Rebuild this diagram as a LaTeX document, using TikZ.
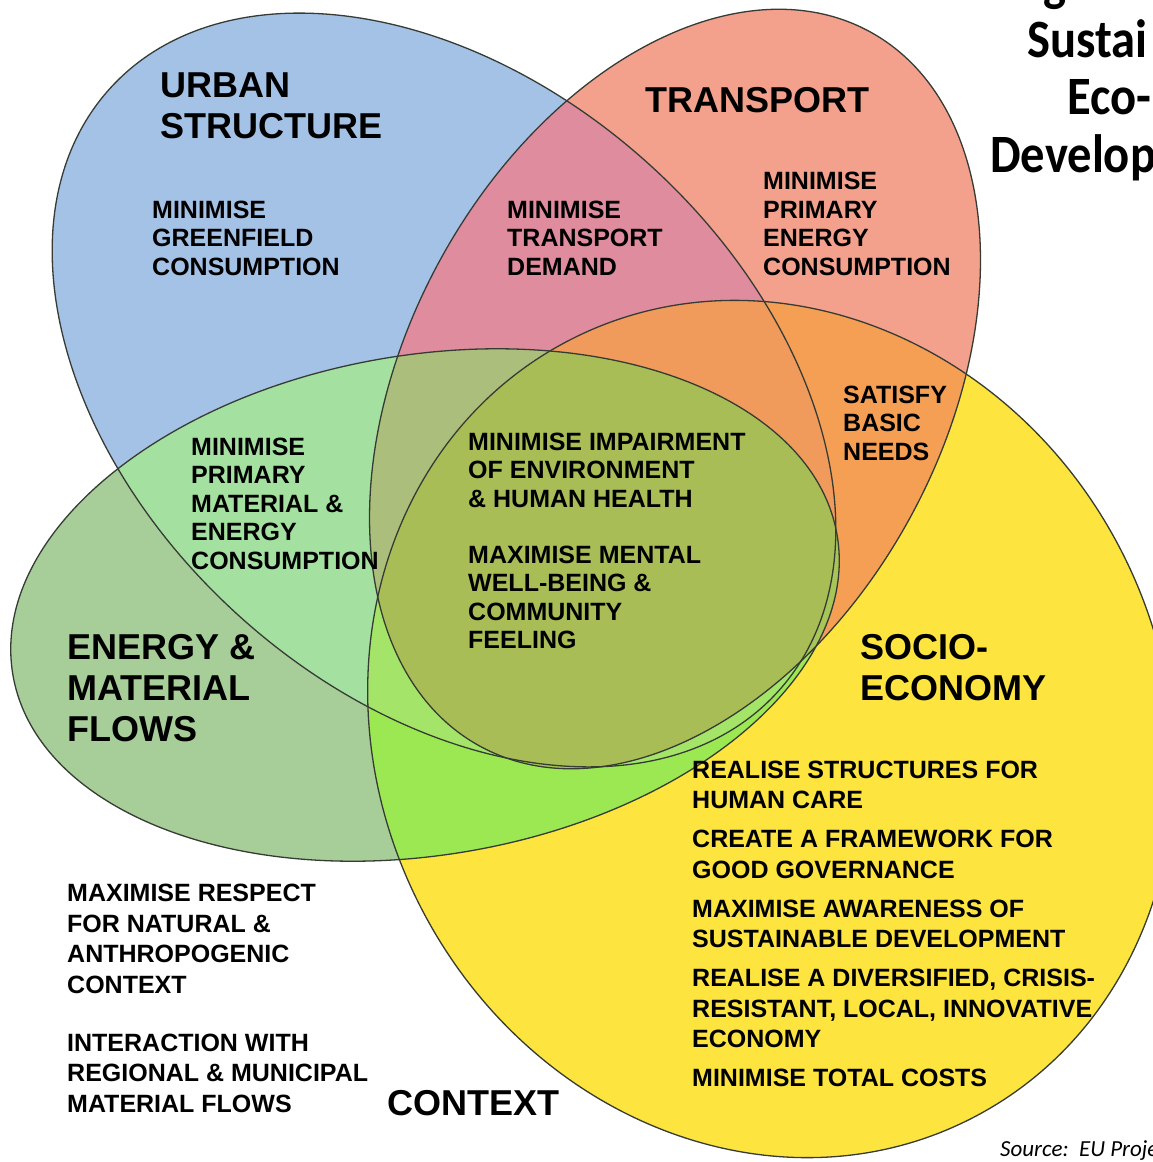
\documentclass[tikz,border=0pt]{standalone}
\usepackage{fontspec}
\setmainfont{Liberation Sans}
\newfontfamily\titlefont{Carlito}[FakeStretch=0.9]
\newfontfamily\srcfont{Carlito}
\definecolor{cB}{HTML}{A4C2E6}
\definecolor{cR}{HTML}{F3A08C}
\definecolor{cG}{HTML}{A7CD98}
\definecolor{cY}{HTML}{FDE43E}
\definecolor{cBR}{HTML}{DF8C9F}
\definecolor{cBG}{HTML}{A4E09F}
\definecolor{cBY}{HTML}{C5D97F}
\definecolor{cRG}{HTML}{C8B07E}
\definecolor{cRY}{HTML}{F59F55}
\definecolor{cGY}{HTML}{9CE853}
\definecolor{cBRG}{HTML}{ACBE7C}
\definecolor{cBRY}{HTML}{F09A5B}
\definecolor{cBGY}{HTML}{A4E468}
\definecolor{cRGY}{HTML}{A8C658}
\definecolor{cBRGY}{HTML}{A9BD57}
\definecolor{edge}{HTML}{363C34}
\def\eB#1{\path[#1,rotate around={-42:(444,390)}] (444,390) ellipse [x radius=450pt,y radius=305pt];}
\def\eR#1{\path[#1,rotate around={61.4:(675,389)}] (675,389) ellipse [x radius=407pt,y radius=268pt];}
\def\eG#1{\path[#1,rotate around={9.6:(425,605)}] (425,605) ellipse [x radius=418pt,y radius=250pt];}
\def\eY#1{\path[#1,rotate around={-62.1:(771,729)}] (771,729) ellipse [x radius=438pt,y radius=393pt];}
\tikzset{
  lbl/.style={inner sep=0pt, anchor=base west, align=left, text=black},
  big/.style={lbl, font=\fontsize{36}{41}\selectfont\bfseries},
  small/.style={lbl, font=\fontsize{25}{28.5}\selectfont\bfseries},
  list/.style={lbl, font=\fontsize{25}{30.5}\selectfont\bfseries},
  ttl/.style={inner sep=0pt, anchor=base west, font=\fontsize{54}{57}\selectfont\titlefont\bfseries},
  outline/.style={draw=edge, line width=1.3pt}
}
\begin{document}
\begin{tikzpicture}[x=1pt,y=-1pt]
\useasboundingbox (0,0) rectangle (1153,1162);
\clip (0,0) rectangle (1153,1162);
\fill[white] (0,0) rectangle (1153,1162);
% single sets
\eB{fill=cB}
\eR{fill=cR}
\eG{fill=cG}
\eY{fill=cY}
% pairs
\begin{scope}\eB{clip}\eR{fill=cBR}\end{scope}
\begin{scope}\eB{clip}\eG{fill=cBG}\end{scope}
\begin{scope}\eB{clip}\eY{fill=cBY}\end{scope}
\begin{scope}\eR{clip}\eG{fill=cRG}\end{scope}
\begin{scope}\eR{clip}\eY{fill=cRY}\end{scope}
\begin{scope}\eG{clip}\eY{fill=cGY}\end{scope}
% triples
\begin{scope}\eB{clip}\eR{clip}\eG{fill=cBRG}\end{scope}
\begin{scope}\eB{clip}\eR{clip}\eY{fill=cBRY}\end{scope}
\begin{scope}\eB{clip}\eG{clip}\eY{fill=cBGY}\end{scope}
\begin{scope}\eR{clip}\eG{clip}\eY{fill=cRGY}\end{scope}
% all four
\begin{scope}\eB{clip}\eR{clip}\eG{clip}\eY{fill=cBRGY}\end{scope}
% outlines
\eB{outline}
\eR{outline}
\eG{outline}
\eY{outline}
% titles (anchor = baseline of the last line)
\node[big] (urban) at (160,138.5) {URBAN\\STRUCTURE};
\node[big] (transport) at (645,112) {TRANSPORT};
\node[big] (energy) at (67,741) {ENERGY \&\\MATERIAL\\FLOWS};
\node[big] (socio) at (860,700) {SOCIO-\\ECONOMY};
\node[big] (context) at (387,1115) {CONTEXT};
% goals
\node[small] (greenfield) at (152,275) {MINIMISE\\GREENFIELD\\CONSUMPTION};
\node[small] (demand) at (507,275) {MINIMISE\\TRANSPORT\\DEMAND};
\node[small] (primen) at (763,275) {MINIMISE\\PRIMARY\\ENERGY\\CONSUMPTION};
\node[small] (basic) at (843,460) {SATISFY\\BASIC\\NEEDS};
\node[small] (impair) at (468,507) {MINIMISE IMPAIRMENT\\OF ENVIRONMENT\\\& HUMAN HEALTH};
\node[small] (mental) at (468,648.5) {MAXIMISE MENTAL\\WELL-BEING \&\\COMMUNITY\\FEELING};
\node[small] (primmat) at (191,569) {MINIMISE\\PRIMARY\\MATERIAL \&\\ENERGY\\CONSUMPTION};
\node[list] (soclist) at (692,1086.5) {REALISE STRUCTURES FOR\\HUMAN CARE\\[8.5pt]CREATE A FRAMEWORK FOR\\GOOD GOVERNANCE\\[8.5pt]MAXIMISE AWARENESS OF\\SUSTAINABLE DEVELOPMENT\\[8.5pt]REALISE A DIVERSIFIED, CRISIS-\\RESISTANT, LOCAL, INNOVATIVE\\ECONOMY\\[8.5pt]MINIMISE TOTAL COSTS};
\node[list] (respect) at (67,993) {MAXIMISE RESPECT\\FOR NATURAL \&\\ANTHROPOGENIC\\CONTEXT};
\node[list] (interact) at (67,1112) {INTERACTION WITH\\REGIONAL \& MUNICIPAL\\MATERIAL FLOWS};
% slide title fragments
\node[ttl] (tg) at (1043,0) {g};
\node[ttl] (t1) at (1027,57) {Sustai};
\node[ttl] (t2) at (1067,114) {Eco-};
\node[ttl] (t3) at (990,172) {Develop};
\node[inner sep=0pt, anchor=base west, font=\fontsize{23}{26}\selectfont\srcfont\itshape] (src) at (1000,1156) {Source:\ \ EU Proje};
\end{tikzpicture}
\end{document}
